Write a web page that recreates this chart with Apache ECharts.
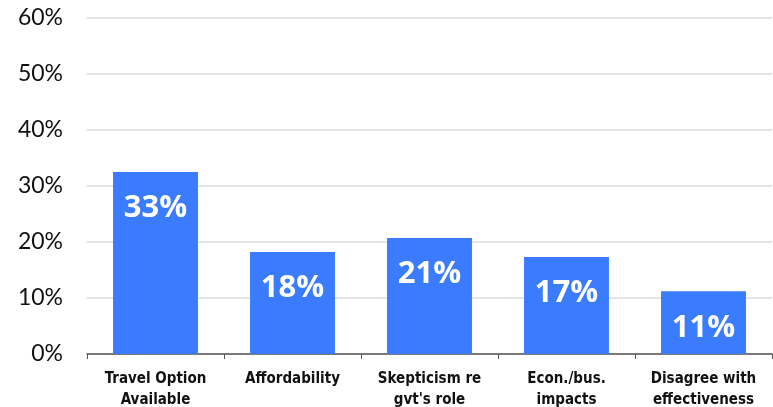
<!DOCTYPE html>
<html>
<head>
<meta charset="utf-8">
<script src="https://cdn.jsdelivr.net/npm/echarts@6/dist/echarts.min.js"></script>
<style>
  html, body { margin: 0; padding: 0; background: #fff; }
  #chart { width: 773px; height: 407px; }
</style>
</head>
<body>
<div id="chart"></div>
<script>
// categories and values
const categories = ['Travel Option\nAvailable', 'Affordability', 'Skepticism re\ngvt\'s role', 'Econ./bus.\nimpacts', 'Disagree with\neffectiveness'];
const values = [32.5, 18.2, 20.7, 17.3, 11.2];

const chart = echarts.init(document.getElementById('chart'));

const option = {
  animation: false,
  grid: {
    left: 87,
    right: 1,
    top: 18,
    bottom: 53,
    outerBoundsMode: 'none'
  },
  xAxis: {
    type: 'category',
    data: categories,
    axisLine: { lineStyle: { color: '#555', width: 1.5 } },
    axisTick: { show: true, length: 5, lineStyle: { color: '#555' } },
    axisLabel: {
      interval: 0,
      color: '#111',
      fontFamily: '"Liberation Sans Narrow", "DejaVu Sans Condensed", sans-serif',
      fontWeight: 'bold',
      fontSize: 15,
      lineHeight: 21,
      margin: 15
    }
  },
  yAxis: {
    type: 'value',
    min: 0,
    max: 60,
    interval: 10,
    axisLine: { show: false },
    axisTick: { show: false },
    axisLabel: {
      formatter: '{value}%',
      color: '#111',
      fontFamily: 'Lato, "Open Sans", sans-serif',
      fontSize: 23,
      margin: 24
    },
    splitLine: { lineStyle: { color: '#dcdcdc', width: 1.5 } }
  },
  series: [
    {
      type: 'bar',
      data: values,
      barCategoryGap: '38%',
      itemStyle: { color: '#3b7cff' },
      label: {
        show: true,
        position: 'insideTop',
        distance: 21,
        color: '#fff',
        fontFamily: '"Open Sans", sans-serif',
        fontWeight: 'bold',
        fontSize: 31,
        formatter: (p) => Math.round(p.value) + '%'
      }
    }
  ]
};

chart.setOption(option);
</script>
</body>
</html>
